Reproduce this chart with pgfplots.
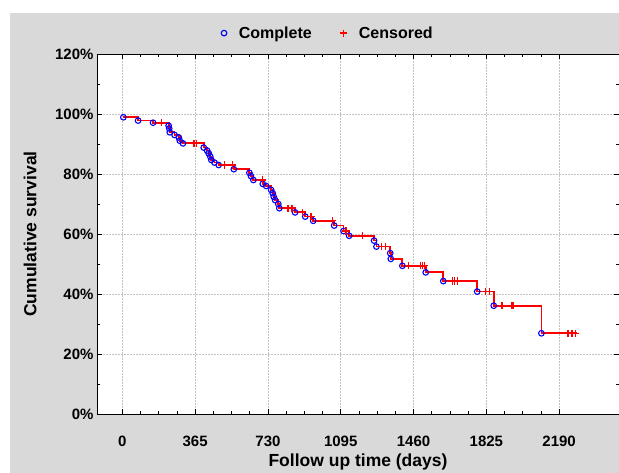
\documentclass[border=0pt]{standalone}
\usepackage{pgfplots}
\pgfplotsset{compat=1.18}
\usepackage{fontspec}
\setmainfont{Liberation Sans}
\definecolor{bggray}{RGB}{217,217,217}
\definecolor{gridgray}{RGB}{195,195,195}

\begin{document}
\begin{tikzpicture}[x=1pt,y=1pt]
\useasboundingbox (0,0) rectangle (619,473);
\fill[white] (0,0) rectangle (619,473);
\fill[bggray] (10,0) rectangle (619,460);
\fill[white] (97,59) rectangle (619,419);
\begin{axis}[
  at={(97pt,59pt)}, anchor=south west,
  scale only axis, width=522pt, height=360pt,
  xmin=-127, xmax=2490, ymin=0, ymax=120,
  xtick={0,365,730,1095,1460,1825,2190},
  xticklabels={0,365,730,1095,1460,1825,2190},
  ytick={0,20,40,60,80,100,120},
  yticklabels={0\%,20\%,40\%,60\%,80\%,100\%,120\%},
  minor x tick num=3, minor y tick num=1,
  major tick length=5pt, minor tick length=3pt,
  tick style={black, line width=0.8pt},
  axis line style={black, line width=0.9pt},
  grid=major,
  major grid style={gridgray, line width=0.6pt, dash pattern=on 1.5pt off 1.5pt},
  ticklabel style={font=\bfseries\fontsize{15}{18}\selectfont},
  xticklabel style={yshift=-18pt},
  xlabel={Follow up time (days)},
  ylabel={Cumulative survival},
  label style={font=\bfseries\fontsize{17.5}{20}\selectfont},
  xlabel style={at={(axis description cs:0.5,-0.133)}, anchor=center},
  ylabel style={at={(axis description cs:-0.128,0.5)}, anchor=center},
  legend style={at={(axis description cs:0.4425,1.058)}, anchor=center,
    draw=none, fill=none, legend columns=2,
    font=\bfseries\fontsize{16}{18}\selectfont,
    /tikz/column 1/.style={column sep=10pt},
    /tikz/column 2/.style={column sep=26pt},
    /tikz/column 3/.style={column sep=10pt}},
  clip=false,
]
% survival curve
\addplot[const plot, draw=red, line width=1.8pt, no marks, forget plot] coordinates {
  (5,98.9)(79,97.8)(154,97.1)(232,96.1)(235,95.2)(238,93.9)(262,93.0)
  (283,92.2)(288,91.1)(304,90.2)(408,88.8)(425,87.8)(433,86.9)(441,85.8)
  (446,84.7)(462,83.8)(483,83.0)(559,81.6)(637,80.4)(645,79.3)(657,78.0)
  (704,76.7)(721,76.0)(746,74.7)(754,73.6)(759,72.4)(766,71.3)(782,70.0)
  (787,68.6)(866,67.2)(917,65.8)(957,64.4)(1062,62.8)(1109,61.0)(1137,59.4)
  (1262,57.8)(1274,55.8)(1343,53.6)(1346,51.7)(1404,49.4)(1521,47.2)
  (1609,44.3)(1779,40.8)(1862,36.1)(2101,26.9)(2280,26.9)
};
% complete observations
\addplot[only marks, mark=o, mark size=2.8pt, color=blue,
  mark options={draw=blue, fill=white, line width=1.1pt}] coordinates {
  (5,98.9)(79,97.8)(154,97.1)(232,96.1)(235,95.2)(238,93.9)(262,93.0)
  (283,92.2)(288,91.1)(304,90.2)(408,88.8)(425,87.8)(433,86.9)(441,85.8)
  (446,84.7)(462,83.8)(483,83.0)(559,81.6)(637,80.4)(645,79.3)(657,78.0)
  (704,76.7)(721,76.0)(746,74.7)(754,73.6)(759,72.4)(766,71.3)(782,70.0)
  (787,68.6)(866,67.2)(917,65.8)(957,64.4)(1062,62.8)(1109,61.0)(1137,59.4)
  (1262,57.8)(1274,55.8)(1343,53.6)(1346,51.7)(1404,49.4)(1521,47.2)
  (1609,44.3)(1779,40.8)(1862,36.1)(2101,26.9)
};
% censored observations
\addplot[only marks, mark=+, mark size=3.6pt, color=red,
  mark options={draw=red, line width=1.3pt}] coordinates {
  (196,97.1)(360,90.2)(372,90.2)(512,83.0)(551,83.0)(701,78.0)(830,68.6)
  (850,68.6)(904,67.2)(946,65.8)(1054,64.4)(1121,61.0)(1204,59.4)(1300,55.8)
  (1320,55.8)(1434,49.4)(1496,49.4)(1505,49.4)(1514,49.4)(1654,44.3)
  (1667,44.3)(1681,44.3)(1821,40.8)(1842,40.8)(1904,36.1)(1954,36.1)
  (1959,36.1)(2234,26.9)(2254,26.9)(2271,26.9)
};
\legend{Complete, Censored}
\end{axis}
\end{tikzpicture}
\end{document}
